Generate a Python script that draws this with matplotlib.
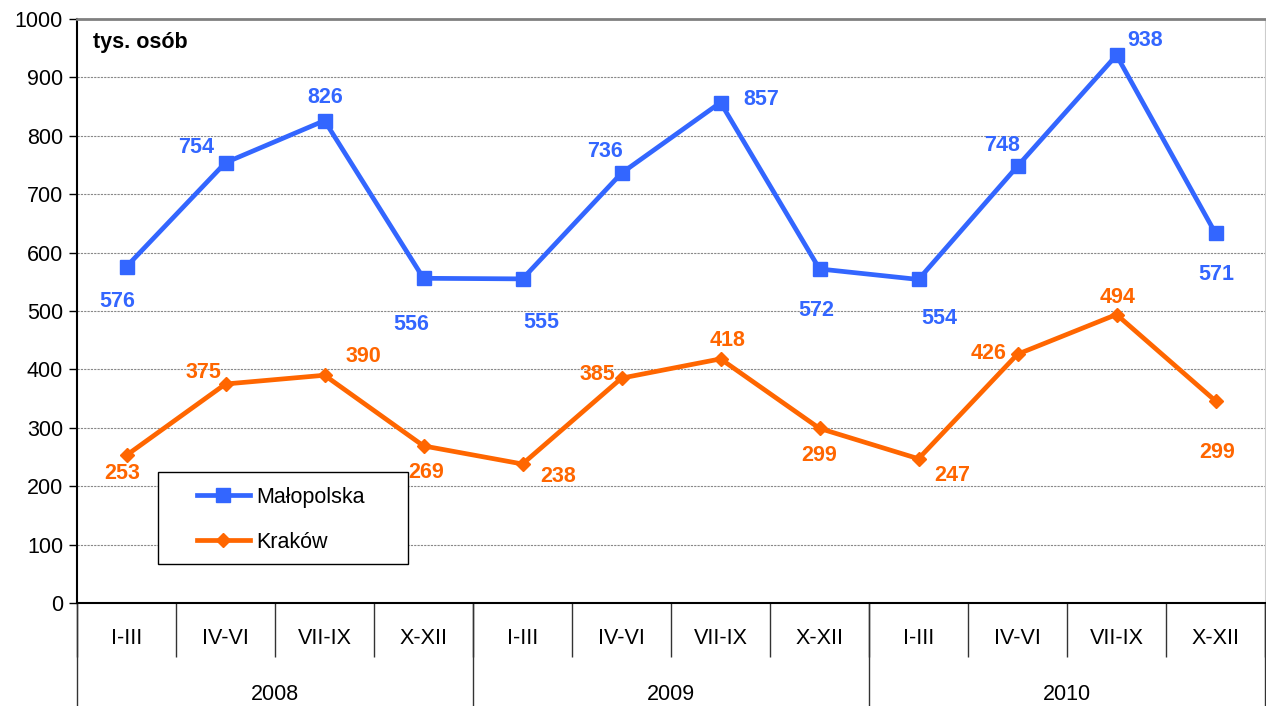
import numpy as np
import matplotlib
matplotlib.use("Agg")
import matplotlib.pyplot as plt
from matplotlib.patches import Rectangle

plt.rcParams['font.family'] = ['Liberation Sans', 'DejaVu Sans']

# quarters and years
quarters = ['I-III', 'IV-VI', 'VII-IX', 'X-XII'] * 3
years = ['2008', '2009', '2010']

# series values and the data labels printed on it
malopolska = [576, 754, 826, 556, 555, 736, 857, 572, 554, 748, 938, 633]
malopolska_labels = ['576', '754', '826', '556', '555', '736', '857', '572', '554', '748', '938', '571']
krakow = [253, 375, 390, 269, 238, 385, 418, 299, 247, 426, 494, 346]
krakow_labels = ['253', '375', '390', '269', '238', '385', '418', '299', '247', '426', '494', '299']

# label offsets in pixels (dx, dy) relative to the marker
mal_off = [(-9, -35), (-29, 15), (1, 23), (-12, -46), (19, -44), (-17, 22),
           (41, 3), (-3, -42), (21, -39), (-15, 21), (29, 15), (1, -41)]
kra_off = [(-4, -18), (-22, 12), (39, 19), (3, -27), (36, -12), (-24, 4),
           (7, 18), (0, -27), (34, -17), (-29, 1), (1, 17), (2, -52)]

blue = '#3366FF'
orange = '#FF6600'
fs = 15.5

fig = plt.figure(figsize=(12.66, 7.06), dpi=100)
ax = fig.add_axes([77 / 1266, 1 - 603 / 706, 1188 / 1266, 584 / 706])

x = np.arange(len(quarters))
ax.plot(x, malopolska, color=blue, lw=3.4, marker='s', ms=10, label='Małopolska')
ax.plot(x, krakow, color=orange, lw=3.4, marker='D', ms=7.5, label='Kraków')

for xi, v, t, (dx, dy) in zip(x, malopolska, malopolska_labels, mal_off):
    ax.annotate(t, (xi, v), xytext=(dx, dy), textcoords='offset pixels',
                ha='center', va='center', color=blue, fontsize=fs, fontweight='bold')
for xi, v, t, (dx, dy) in zip(x, krakow, krakow_labels, kra_off):
    ax.annotate(t, (xi, v), xytext=(dx, dy), textcoords='offset pixels',
                ha='center', va='center', color=orange, fontsize=fs, fontweight='bold')

ax.set_xlim(-0.5, 11.5)
ax.set_ylim(0, 1000)
ax.set_yticks(np.arange(0, 1001, 100))
ax.tick_params(axis='y', labelsize=fs, length=6, width=1, pad=4)
ax.yaxis.grid(True, color='#888888', ls=(0, (2, 1)), lw=0.8)
ax.set_axisbelow(True)

# category axis: quarter labels and separators
ax.set_xticks(x)
ax.set_xticklabels(quarters, fontsize=fs)
ax.tick_params(axis='x', which='major', length=0, pad=18)
ax.set_xticks(np.arange(-0.5, 12, 1), minor=True)
ax.tick_params(axis='x', which='minor', length=39, width=1, color='#333333')

# year level
sec = ax.secondary_xaxis('bottom')
sec.set_xticks([1.5, 5.5, 9.5])
sec.set_xticklabels(years, fontsize=fs)
sec.tick_params(axis='x', which='major', length=0, pad=58)
sec.set_xticks([-0.5, 3.5, 7.5, 11.5], minor=True)
sec.tick_params(axis='x', which='minor', length=80, width=1, color='#333333')
sec.spines['bottom'].set_visible(False)

ax.spines['left'].set_linewidth(1.5)
ax.spines['bottom'].set_linewidth(1.5)
ax.spines['top'].set_color('#808080')
ax.spines['top'].set_linewidth(2)
ax.spines['right'].set_color('#cccccc')

ax.text(16 / 1188, 1 - 23 / 584, 'tys. osób', transform=ax.transAxes,
        fontsize=fs, fontweight='bold', va='center', ha='left')

# legend box
ax.add_patch(Rectangle((81 / 1188, 39 / 584), 250 / 1188, 92 / 584, transform=ax.transAxes,
                       facecolor='white', edgecolor='black', lw=1, zorder=5))
leg = ax.legend(loc='upper left', bbox_to_anchor=(120 / 1188, 116 / 584),
                fontsize=fs, frameon=False, borderpad=0, borderaxespad=0,
                handlelength=2.45, handletextpad=0.28, labelspacing=1.1)
leg.set_zorder(6)

fig.savefig('out.png', dpi=100)
